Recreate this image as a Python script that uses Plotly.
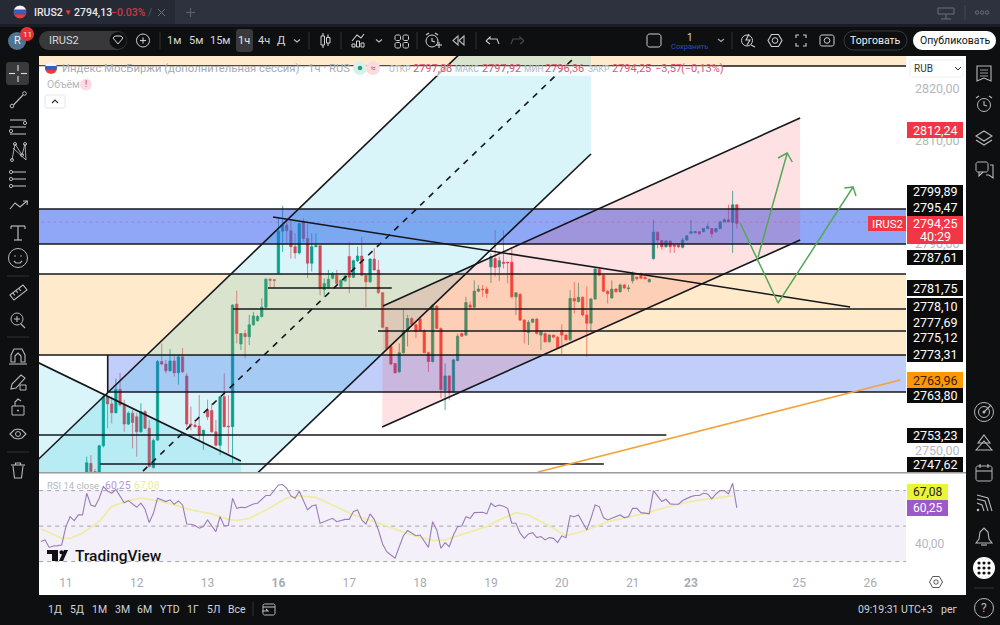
import numpy as np
import plotly.graph_objects as go

# ---------- DATA ----------
candle_open = [2745.0,2747.6,2746,2745,2751,2760.5,2759.1,2757.4,2761.9,2758.9,
2755.2,2757.3,2756.6,2753.7,2757.6,2754.4,2746.8,2752.1,2767.3,2766.8,
2765.5,2767.4,2765.1,2768.2,2764.5,2755.2,2755,2754.8,2753.1,2757.9,
2757.8,2753.7,2751.1,2760.5,2754.8,2754.7,2778.4,2770.7,2772.7,2772.1,
2774.4,2775.2,2776,2777.8,2783.2,2783.1,2784.4,2792.5,2793.7,2792.6,
2789.5,2788.3,2794.3,2791.1,2786.3,2789.5,2789.7,2781.2,2781.6,2783.4,
2784,2781.8,2782.9,2787.6,2783.6,2786.8,2787.7,2784,2782.7,2787.1,
2785,2780.6,2773.9,2770.2,2766.9,2765.3,2769,2773.1,2775.6,2774.4,
2775.5,2773.3,2769,2767.3,2778,2773.7,2761.7,2764.5,2761.4,2767.5,
2772.7,2772.4,2778.2,2777.8,2780.9,2781.3,2781.3,2785.6,2787.2,2785.6,
2786.5,2786.5,2786.5,2779.8,2780.3,2775.3,2772.9,2774.9,2775.5,2772.4,
2772.7,2771.1,2772.4,2772,2773.3,2772.4,2771.5,2779.5,2778.9,2779.7,
2776.3,2774.7,2779.4,2785.1,2784,2780.9,2779.6,2781.3,2780.8,2782.1,
2781.4,2782.9,2783.6,2784.3,2783.6,2782.7,2787.2,2792.3,2790.7,2789.5,
2790.6,2789.8,2789.8,2789.4,2790.8,2792.1,2792.2,2792.4,2792.4,2793,
2793,2792.4,2793,2794.3,2794.7,2794.2,2797.6]
candle_high = [2748.9,2749.2,2746.5,2751.2,2761.1,2761.8,2760.5,2764,2765.1,2759.9,
2757.6,2757.9,2757.3,2759.2,2757.9,2756,2752.4,2767.6,2770.8,2767.6,
2769.7,2768.5,2768.5,2769.9,2765,2758.6,2756,2760.8,2754.1,2759.9,
2759.2,2756,2760.6,2765,2760.8,2778.4,2781,2772.8,2773.4,2776.3,
2776.9,2776.3,2779.5,2783.4,2783.4,2783.2,2795.3,2797.4,2794.7,2794.7,
2792.1,2794.1,2795,2794,2792.1,2792.1,2789.7,2783.4,2785,2784.6,
2785,2783.2,2784,2790.5,2787,2789.5,2791.4,2784.1,2787.3,2789.2,
2786.9,2780.7,2774,2770.4,2767,2770.8,2777.6,2776.3,2775.9,2774.6,
2776,2773.5,2769.2,2778.4,2778.2,2773.9,2766.9,2764.7,2767.8,2772.7,
2772.9,2779.8,2778.9,2783,2782.1,2782.1,2781.8,2788.2,2792.7,2787.6,
2792.7,2786.6,2789.2,2780.7,2780.5,2775.5,2775.3,2775.6,2775.7,2773.3,
2772.9,2772.6,2772.5,2772.2,2774.5,2772.6,2781.1,2782.7,2782.5,2779.9,
2781.8,2779.6,2785.3,2785.6,2784.2,2781.1,2783,2781.5,2782.4,2782.3,
2782.1,2784.7,2783.7,2784.5,2783.7,2783.3,2794.7,2792.4,2790.8,2790.8,
2790.7,2790,2790,2791.2,2791.7,2794.7,2792.5,2792.5,2793.1,2794,
2793.1,2793.1,2794.4,2795,2797.6,2800.3,2797.7]
candle_low = [2744.5,2744.5,2745,2744,2750.7,2754.4,2755.3,2757.2,2758.6,2753.7,
2755,2750.5,2748.9,2753.5,2754.2,2746.8,2746.6,2751.9,2766.6,2765,
2765.3,2764.4,2762.8,2765.1,2754.7,2754,2754.5,2752.1,2750.2,2756,
2753.5,2750.9,2749.2,2754.5,2749.5,2747.6,2770.8,2769.5,2767.9,2770.5,
2774.2,2775,2775.8,2777.6,2781.6,2781.6,2784.2,2788.5,2790,2787.2,
2787.2,2788,2790.5,2783.4,2784.7,2789.4,2780.1,2779.8,2781.4,2783.2,
2782,2781.5,2782.7,2780.5,2783.4,2786.5,2783.8,2777.8,2782.5,2784.9,
2780.4,2773.7,2769.5,2766.6,2765,2765.1,2768.8,2770.2,2774.3,2771.8,
2773.1,2768.9,2765.3,2767.1,2773.5,2760.2,2757.9,2759.8,2761.2,2767.3,
2772,2772.2,2777.3,2777.6,2780.7,2779.8,2779.5,2782.5,2783.7,2782.9,
2785.3,2782.4,2779.5,2776.3,2775.1,2770.8,2770.5,2774.7,2772.5,2769.5,
2771,2771,2771.8,2769.9,2768.7,2771.4,2771.3,2776.6,2778.7,2776,
2768.2,2773.1,2779.2,2783.8,2780.7,2778.5,2779.4,2780.6,2780.6,2781.3,
2780.8,2782.4,2783,2783.2,2783.2,2782.6,2787,2789.2,2788.9,2789.3,
2788.3,2788.3,2789.2,2789.2,2790.6,2792,2792.1,2791.8,2792.3,2792.9,
2791.3,2792.2,2792.9,2794.2,2794.2,2788.3,2793]
candle_close = [2747.7,2746,2745.5,2751,2760.5,2759.1,2757.4,2761.9,2758.9,2755.2,
2757.3,2755.5,2753.7,2757.6,2754.4,2747,2752,2767.3,2766.8,2765.5,
2767.4,2765.1,2768.2,2765.3,2755.2,2755,2754.7,2753.1,2754,2756.6,
2753.7,2751.1,2760.5,2754.7,2754.7,2778.2,2772.7,2772.7,2772.1,2774.4,
2776.1,2776,2777.8,2783.2,2783,2783,2792.5,2793.7,2792.6,2789.5,
2788.3,2794,2791.1,2786.3,2789.5,2789.7,2781.4,2782.4,2783.2,2784.2,
2782.4,2783,2783.8,2783.6,2786.8,2787.7,2784,2782.7,2787.1,2785,
2780.6,2773.9,2769.8,2766.8,2765.1,2769,2773.1,2775.6,2774.5,2773.1,
2773.3,2769,2767.3,2778.2,2773.7,2761.9,2764.5,2761.3,2767.6,2772.2,
2772.2,2778.7,2777.8,2780.9,2781.3,2781.2,2780.5,2787.6,2785.5,2786.8,
2786.3,2786.4,2779.8,2780.6,2775.3,2773.1,2774.9,2775.5,2772.7,2773.1,
2771.1,2772.4,2772,2770,2772.4,2771.5,2779.5,2779,2779.7,2776.3,
2774.7,2779.4,2785.2,2784,2780.9,2780.4,2781.3,2780.8,2782.1,2781.5,
2781.5,2784.3,2783.3,2783.4,2783.3,2783.2,2792.3,2790.8,2789.5,2790.6,
2789.5,2789.6,2789.5,2790.8,2791.6,2792.4,2792.4,2792,2793,2793.4,
2792,2793,2794.3,2794.7,2794.3,2797.6,2794]
bars = list(range(1, len(candle_open) + 1))

rsi_bars = list(range(-10, 158))
rsi_values = [41.3,42.2,38,38.8,39,39.4,49.7,55.3,53.1,56.3,56.3,68.5,61.9,61,65.7,72.3,69.8,68.5,70.7,66.6,
63.2,64.4,62.5,60.6,62.9,59.5,52,57.2,65.7,64.8,63.8,64.8,62.3,64.2,61.9,51.2,51,50.3,48.8,49.7,
53.5,50.1,46.9,55.3,50.1,50.3,65.7,60,60.6,60.4,61.5,62.5,62.9,64.8,67.2,67.2,70.4,73.2,73.4,71.3,
67,65.7,69.6,64.4,59.1,61.3,61.9,51.6,52.5,53.5,54.4,52.5,53.1,53.8,53.8,58.2,59.1,53.5,51.2,56.9,
53.8,47.8,39.9,35.6,33.7,31.9,38.4,44.6,47.5,46,44.6,45,41.3,38,52.5,47.8,37.5,40.7,38.4,45,
49.7,50.1,55.3,54.4,57.6,57.8,57.8,56.9,62.9,61,61.9,61.2,60,51.6,51.6,46,43.1,45.6,46.3,43.5,
44.1,42.2,43.5,43.1,40.7,44.5,43.5,55.9,55.3,56.3,52,47.8,54.4,61.9,61,54.8,53.5,54.4,55,56.3,
54.8,55.3,60,60,57.6,57.2,56.9,70,66.6,63.8,65.1,62.5,62.3,62.3,64.4,65.7,66.6,67.2,67.2,68.5,
68.1,65.3,68.1,70,70,68.1,74.1,60.25]
ma_bars = [-10,-9,-5,-3,0,4,7,11,14,18,22,26,31,35,37,40,44,49,52,56,60,65,70,75,79,84,87,92,97,100,
104,107,110,113,116,121,126,131,135,140,144,148,151,156]
ma_values = [48.2,47.5,43.1,43.1,46,52.5,61,64.4,65.7,64.4,61.9,59.1,56.9,53.8,53.1,54.4,59.1,65.7,67,66.2,
61.9,56.3,52.5,48.2,45,41.8,42.2,46,49.7,53.5,57.6,56.3,52.5,48.8,44.5,47.8,52.5,55,57.2,60.6,
62.9,64.7,65.7,67.08]
rsi_levels = [70, 50, 30]

day_ticks = [-4, 13, 30, 47, 64, 81, 98, 115, 132, 146, 172, 189]
day_labels = ["11","12","13","<b>16</b>","17","18","19","20","21","<b>23</b>","25","26"]
price_ticks = [2820, 2810, 2790, 2750]
price_tick_labels = ["2820,00","2810,00","2790,00","2750,00"]
last_price = 2794.25

# full-width zones: low, high, first bar, last bar
band_low = [2824.45, 2784.22, 2761.40, 2790.02]
band_high = [2840.0, 2768.55, 2768.55, 2796.79]
band_start = [-20, -20, 6.04, -20]
band_end = [210, 210, 210, 210]

hline_price = [2824.45, 2796.79, 2790.02, 2784.22, 2768.55, 2761.40, 2781.51, 2777.45, 2773.19, 2753.08, 2747.47]
hline_start = [-20, -20, -20, -20, -20, 6.04, 44.5, 36.1, 70.9, -20, 4.2]
hline_end = [210, 210, 210, 210, 210, 210, 74.2, 210, 210, 140.1, 125.1]

channel_x = [-15, 122, 122, 42.1, 36]
channel_y = [2744.96, 2851.2, 2807.43, 2745.73, 2741.1]
channel_upper_x = [-15, 122]
channel_upper_y = [2744.96, 2851.2]
channel_lower_x = [36, 122]
channel_lower_y = [2741.1, 2807.43]
channel_mid_x = [14.5, 118.2]
channel_mid_y = [2746.1, 2826.2]
wedge_x = [-12.6, 38, 38, -12.6]
wedge_y = [2767.85, 2748.05, 2735, 2735]
wedge_line_x = [-12.6, 38]
wedge_line_y = [2767.85, 2748.05]
pink_x = [72.1, 172.2, 172.2, 71.9]
pink_y = [2778.03, 2814.39, 2790.79, 2754.63]
pink_upper_x = [72.1, 172.2]
pink_upper_y = [2778.03, 2814.39]
pink_lower_x = [71.9, 172.2]
pink_lower_y = [2754.63, 2790.79]
fall_x = [45.7, 184.2]
fall_y = [2795.24, 2777.84]
orange_x = [109.3, 196.2]
orange_y = [2745.93, 2763.72]
arrow1_x = [157.8, 166.9, 184.9, 182.8, 184.9, 185.6]
arrow1_y = [2794.08, 2778.61, 2801.04, 2800.85, 2801.04, 2799.3]
arrow2_x = [162.1, 169.1, 166.9, 169.1, 170.3]
arrow2_y = [2787.5, 2807.62, 2806.65, 2807.62, 2805.88]

# ---------- HELPERS FOR THE APP CHROME ----------
FONT = "Roboto, sans-serif"
shapes, annots = [], []
def X(p): return p / 1000
def Y(p): return 1 - p / 625
def txt(x, y, s, size=11, color="#d1d4dc", anchor="left", weight=400):
    annots.append(dict(xref="paper", yref="paper", x=X(x), y=Y(y), text=s, showarrow=False,
                       xanchor=anchor, yanchor="middle", align=anchor,
                       font=dict(size=size, color=color, family=FONT, weight=weight)))
def rect(x0, y0, x1, y1, fill=None, line=None, lw=1, layer="above"):
    shapes.append(dict(type="rect", xref="paper", yref="paper", x0=X(x0), x1=X(x1), y0=Y(y0), y1=Y(y1),
                       fillcolor=fill or "rgba(0,0,0,0)", line=dict(color=line or "rgba(0,0,0,0)", width=lw if line else 0), layer=layer))
def circ(cx, cy, r, fill=None, line=None, lw=1):
    shapes.append(dict(type="circle", xref="paper", yref="paper", x0=X(cx - r), x1=X(cx + r), y0=Y(cy + r), y1=Y(cy - r),
                       fillcolor=fill or "rgba(0,0,0,0)", line=dict(color=line or "rgba(0,0,0,0)", width=lw if line else 0), layer="above"))
def poly(pts, line="#c8c8c8", lw=1.1, fill=None, close=False):
    d = "M " + " L ".join(f"{X(a):.5f} {Y(b):.5f}" for a, b in pts) + (" Z" if close else "")
    shapes.append(dict(type="path", xref="paper", yref="paper", path=d, fillcolor=fill or "rgba(0,0,0,0)",
                       line=dict(color=line or "rgba(0,0,0,0)", width=lw if line else 0), layer="above"))
def rrect(x0, y0, x1, y1, r, fill=None, line=None, lw=1):
    a = np.linspace(0, np.pi / 2, 6)
    pts = []
    for cx, cy, s in [(x1 - r, y0 + r, -np.pi / 2), (x1 - r, y1 - r, 0), (x0 + r, y1 - r, np.pi / 2), (x0 + r, y0 + r, np.pi)]:
        pts += [(cx + r * np.cos(t + s), cy + r * np.sin(t + s)) for t in a]
    poly(pts, line=line, lw=lw, fill=fill, close=True)
def flag(cx, cy, r):
    for y0, y1, c in [(-1, -1 / 3, "#f4f4f4"), (-1 / 3, 1 / 3, "#3560b8"), (1 / 3, 1, "#e0403c")]:
        ys = np.linspace(y0, y1, 7)
        right = [(cx + r * np.sqrt(1 - v * v), cy + r * v) for v in ys]
        left = [(cx - r * np.sqrt(1 - v * v), cy + r * v) for v in ys[::-1]]
        poly(right + left, line=None, lw=0, fill=c, close=True)

# backgrounds
rect(0, 0, 1000, 24, fill="#2e323e", layer="below")
rect(0, 0, 175, 24, fill="#262a35", layer="below")
rect(0, 24, 1000, 27, fill="#1a1d25", layer="below")
rect(39, 56, 966, 595, fill="#ffffff", layer="below")

# tab bar
flag(20, 12, 6.5)
txt(32, 12.5, "IRUS2", 10.5, "#e8e8ea", weight=500)
txt(62, 12.5, "▼", 8, "#f23645")
txt(72, 12.5, "2794,13", 10.5, "#e8e8ea", weight=500)
txt(109, 12.5, "−0.03%", 10.5, "#c8394b", weight=500)
txt(146, 12.5, "/", 10, "#555a66")
poly([(158, 9), (165, 16)], "#6b6f7b", 1); poly([(165, 9), (158, 16)], "#6b6f7b", 1)
poly([(186, 12.5), (195, 12.5)], "#5c606c", 1.2); poly([(190.5, 8), (190.5, 17)], "#5c606c", 1.2)
poly([(938, 8), (954, 8), (954, 14), (938, 14)], "#6b6f7b", 1, close=True)
poly([(946, 14), (946, 19)], "#6b6f7b", 1); poly([(941, 19), (951, 19)], "#6b6f7b", 1)
poly([(965, 5), (965, 20)], "#444854", 1)
for cx in (977, 982, 987):
    circ(cx, 12.5, 1.7, line="#6b6f7b", lw=1)

# top toolbar
rect(0, 27, 1000, 56, fill="#0e0f11", layer="below")
circ(17, 41, 9, fill="#4f7390")
txt(17, 41, "R", 11, "#f0f0f0", "center")
circ(27, 34, 7, fill="#e53238")
txt(27, 34, "11", 8, "#ffffff", "center")
rrect(39, 31, 127, 50, 9.5, fill="#38383a")
txt(47, 40.5, "IRUS2", 11, "#d8d8d8")
circ(118, 40.5, 8.5, fill="#0e0f11")
poly([(113, 38), (115, 36), (121, 36), (123, 38), (118, 44)], "#d8d8d8", 1, close=True)
circ(143, 40.5, 6.5, line="#d0d0d0")
poly([(140, 40.5), (146, 40.5)], "#d0d0d0"); poly([(143, 37.5), (143, 43.5)], "#d0d0d0")
poly([(160, 32), (160, 49)], "#333", 1)
for x_, s_ in [(174, "1м"), (196, "5м"), (220, "15м"), (264, "4ч"), (281, "Д")]:
    txt(x_, 41, s_, 11, "#d8d8d8", "center")
rrect(236, 29, 253, 52, 3, fill="#3a3a3c")
txt(244, 41, "1ч", 11, "#e8e8e8", "center")
poly([(294, 39.5), (297, 42), (300, 39.5)], "#bbb")
poly([(309, 32), (309, 49)], "#333", 1)
rect(321, 36, 324.5, 45, line="#d0d0d0"); poly([(323, 33), (323, 36)], "#d0d0d0"); poly([(323, 45), (323, 48)], "#d0d0d0")
rect(326.5, 37.5, 330, 43, line="#d0d0d0"); poly([(328, 34.5), (328, 37.5)], "#d0d0d0"); poly([(328, 43), (328, 46)], "#d0d0d0")
poly([(341, 32), (341, 49)], "#333", 1)
poly([(352, 41), (357, 35), (361, 38), (364, 34)], "#d0d0d0")
for a_, b_ in [(352, 44), (356.5, 41), (361, 43)]:
    rect(a_, b_, a_ + 3, 47, line="#d0d0d0")
poly([(376, 39.5), (379, 42), (382, 39.5)], "#bbb")
for a_, b_ in [(395, 35), (403, 35), (395, 42.5), (403, 42.5)]:
    rrect(a_, b_, a_ + 5.5, b_ + 5.5, 1.5, line="#d0d0d0")
poly([(417, 32), (417, 49)], "#333", 1)
circ(432, 41, 6, line="#d0d0d0"); poly([(432, 38), (432, 41), (435, 42)], "#d0d0d0")
poly([(436, 45), (442, 45)], "#d0d0d0"); poly([(439, 42), (439, 48)], "#d0d0d0")
poly([(426, 35), (429, 33)], "#d0d0d0"); poly([(435, 33), (438, 35)], "#d0d0d0")
poly([(464, 36), (459, 40.5), (464, 45)], "#bbb", close=True); poly([(458, 36), (453, 40.5), (458, 45)], "#bbb", close=True)
poly([(476, 32), (476, 49)], "#333", 1)
poly([(486, 41), (490, 37), (490, 39), (497, 39), (499, 44)], "#c8c8c8"); poly([(486, 41), (490, 44)], "#c8c8c8")
poly([(524, 41), (520, 37), (520, 39), (513, 39), (511, 44)], "#4a4a4c"); poly([(524, 41), (520, 44)], "#4a4a4c")
rrect(647, 34, 661, 47, 2.5, line="#d0d0d0")
txt(689.5, 37, "1", 10, "#d8d8d8", "center")
txt(689.5, 46.5, "Сохранить", 7.5, "#2c4fb5", "center")
poly([(718, 39), (721, 41.5), (724, 39)], "#aaa")
poly([(732, 32), (732, 49)], "#333", 1)
circ(747, 40.5, 5.5, line="#d0d0d0"); poly([(751, 45), (755, 47)], "#d0d0d0"); poly([(749, 34), (746, 40), (750, 40), (747, 45)], "#d0d0d0")
poly([(768, 40.5), (771.5, 34.5), (778.5, 34.5), (782, 40.5), (778.5, 46.5), (771.5, 46.5)], "#d0d0d0", close=True)
circ(775, 40.5, 2.8, line="#d0d0d0")
for pts_ in ([(796, 38), (796, 35), (799, 35)], [(803, 35), (806, 35), (806, 38)], [(806, 43), (806, 46), (803, 46)], [(799, 46), (796, 46), (796, 43)]):
    poly(pts_, "#d0d0d0")
rrect(820, 35, 834, 46, 2, line="#d0d0d0"); circ(827, 40.5, 2.8, line="#d0d0d0")
rrect(844, 31, 907, 50, 9.5, fill="#0e0f11", line="#3a3a3c")
txt(875.5, 40.5, "Торговать", 10.5, "#f0f0f0", "center")
rrect(913, 31, 996, 50, 9.5, fill="#ffffff")
txt(954.5, 40.5, "Опубликовать", 10.5, "#111111", "center")

# left toolbar
rect(0, 56, 39, 625, fill="#0e0f11", layer="below")
C = "#b8b8b8"
rrect(6, 62, 29, 85, 3, fill="#3a3a3c")
for p_ in ([(18, 65), (18, 71)], [(18, 76), (18, 82)], [(9, 73.5), (15, 73.5)], [(21, 73.5), (27, 73.5)]):
    poly(p_, "#e0e0e0")
poly([(13.5, 105), (23, 95)], C); circ(12, 106, 1.8, line=C); circ(24.5, 93.5, 1.8, line=C)
for y_ in (120, 127, 134):
    poly([(10, y_), (26, y_)], C)
circ(25, 123, 1.6, line=C); circ(11, 131, 1.6, line=C)
poly([(12, 160), (15, 144), (22, 155), (25, 144), (26, 160), (13, 148)], C, 0.9)
for p_ in [(12, 160), (15, 144), (22, 155), (25, 144)]:
    circ(p_[0], p_[1], 1.5, line=C)
for y_ in (172, 179, 186):
    poly([(12, y_), (26, y_)], C); circ(11, y_, 1.6, line=C)
poly([(10, 209), (15, 203), (20, 207), (27, 201)], C); poly([(23, 201), (27.5, 201), (27, 205)], C)
poly([(11, 226), (25, 226)], C, 1.2); poly([(18, 226), (18, 240)], C, 1.2); poly([(14, 240), (22, 240)], C, 1.2)
poly([(11, 226), (11, 229)], C); poly([(25, 226), (25, 229)], C)
circ(18, 258, 9.5, line=C); circ(15, 256, 0.8, fill=C); circ(21, 256, 0.8, fill=C)
poly([(14, 261), (16, 263), (20, 263), (22, 261)], C)
poly([(7, 276), (29, 276)], "#333", 1)
poly([(10, 295), (23, 285), (27, 290), (14, 300)], C, close=True)
for a_, b_ in [(13, 293), (16, 290.5), (19, 288.5)]:
    poly([(a_, b_), (a_ + 1.8, b_ + 2.4)], C)
circ(17, 319, 6, line=C); poly([(21, 324), (25, 328)], C); poly([(14, 319), (20, 319)], C); poly([(17, 316), (17, 322)], C)
poly([(7, 337), (29, 337)], "#333", 1)
poly([(11, 362), (11, 355), (14, 349), (22, 349), (25, 355), (25, 362), (21, 362), (21, 356), (18, 353), (15, 356), (15, 362)], C, close=True)
poly([(9, 364), (27, 364)], C)
poly([(11, 389), (12, 384), (21, 375), (25, 378), (16, 388)], C, close=True); rect(20, 385, 26, 390, line=C)
rect(12, 406, 24, 415, line=C); poly([(15, 406), (15, 402), (18, 399), (21, 401)], C); circ(18, 410.5, 1, fill=C)
poly([(10, 434), (14, 430), (18, 429), (22, 430), (26, 434), (22, 438), (18, 439), (14, 438)], C, close=True); circ(18, 434, 2.5, line=C)
poly([(7, 452), (29, 452)], "#333", 1)
poly([(13, 466), (14.5, 478), (21.5, 478), (23, 466)], C); poly([(11, 465), (25, 465)], C); poly([(15.5, 465), (15.5, 463), (20.5, 463), (20.5, 465)], C)

# right toolbar
rect(966, 56, 1000, 625, fill="#0e0f11", layer="below")
poly([(977, 66), (991, 66), (991, 81), (984, 78), (977, 81)], C, close=True)
for y_ in (70, 73, 76):
    poly([(980, y_), (988, y_)], C, 0.8)
circ(984, 105, 6.5, line=C); poly([(984, 101), (984, 105), (987, 106)], C); poly([(976, 98), (979, 96)], C); poly([(989, 96), (992, 98)], C)
poly([(976, 136), (984, 131), (992, 136), (984, 141)], C, close=True); poly([(976, 140), (984, 145), (992, 140)], C)
rrect(976, 162, 988, 172, 2, line=C); poly([(979, 172), (979, 176), (983, 172)], C); poly([(990, 165), (993, 165), (993, 175), (993, 178), (989, 175), (986, 175)], C)
circ(984, 412, 9.5, line=C); circ(984, 412, 5.5, line=C); circ(984, 412, 1.5, fill=C); poly([(984, 412), (991, 405)], C)
poly([(984, 435), (990, 443), (978, 443)], C, close=True); poly([(976, 450), (984, 441), (992, 450)], C, close=True)
rrect(976, 466, 992, 481, 2, line=C); poly([(976, 471), (992, 471)], C); poly([(980, 464), (980, 468)], C); poly([(988, 464), (988, 468)], C)
circ(978, 510, 1.3, fill=C)
poly([(977, 503), (982, 505), (984, 511)], C); poly([(977, 499), (985, 501), (988, 511)], C); poly([(977, 495), (988, 498), (992, 511)], C)
poly([(976, 543), (979, 539), (980, 532), (984, 528), (988, 532), (989, 539), (992, 543)], C, close=True); poly([(981, 545), (987, 545)], C)
circ(984, 568, 11, fill="#ffffff")
for a_ in (979, 984, 989):
    for b_ in (563, 568, 573):
        circ(a_, b_, 1.6, fill="#111111")
poly([(974, 588), (994, 588)], "#333", 1)
circ(984, 608, 9.5, line=C); txt(984, 608, "?", 12, C, "center")

# bottom bar
rect(39, 595, 966, 625, fill="#0e0f11", layer="below")
for x_, s_ in [(55, "1Д"), (77, "5Д"), (99, "1М"), (122, "3М"), (144, "6М"), (170, "YTD"), (193, "1Г"), (213, "5Л"), (237, "Все")]:
    txt(x_, 609.5, s_, 10.5, "#d1d4dc", "center")
poly([(253, 602), (253, 616)], "#333", 1)
rrect(263, 604, 275, 615, 1.5, line=C); poly([(263, 607), (275, 607)], C); poly([(262, 611), (268, 611), (266, 609)], C)
txt(935, 609.5, "09:19:31 UTC+3", 10.5, "#d1d4dc", "right")
txt(959, 609.5, "рег", 10.5, "#d1d4dc", "right")

# legend on the chart
rect(39, 66, 722, 76, fill="rgba(255,255,255,0.72)")
flag(51, 68, 6)
txt(60, 68.5, "Индекс МосБиржи (дополнительная сессия) · 1ч · RUS", 11.3, "#a8abb2")
circ(360, 68, 7, fill="#d9f0ea"); circ(360, 68, 2.3, fill="#1f9d7f")
circ(373, 68, 7, fill="#f9dbe0"); txt(373, 68, "≈", 9, "#d8495b", "center")
R_ = "#d9566a"; G_ = "#b4b7bd"
for x_, s_, c_ in [(387, "ОТКР", G_), (411, "2797,88", R_), (453, "МАКС", G_), (480, "2797,92", R_), (522, "МИН", G_),
                   (543, "2796,36", R_), (586, "ЗАКР", G_), (610, "2794,25", R_), (653, "−3,57", R_), (679, "(−0,13%)", R_)]:
    txt(x_, 68.5, s_, 8.5 if c_ == G_ else 11, c_)
txt(45, 84.5, "Объём", 10.5, "#b4b7bd")
circ(86, 84.5, 6, fill="#fbdde1"); txt(86, 84.5, "!", 9, "#e0364c", "center")
rrect(45, 95, 65, 108, 2, fill="#ffffff", line="#e4e4e4")
poly([(52, 103), (55, 100), (58, 103)], "#333", 1.2)
rrect(910, 60, 963, 77, 2, fill="#ffffff", line="#eeeeee")
txt(912, 68.5, "RUB", 10, "#333333")
poly([(955, 67), (958, 70), (961, 67)], "#333", 1)

# RSI legend
txt(45, 485, "RSI 14 close", 9.5, "#b4b7bd")
txt(103, 485, "60,25", 10.5, "#b893d6")
txt(132, 485, "67,08", 10.5, "#ecec9c")

# watermark
poly([(47, 550), (58, 550), (58, 561), (52, 561), (52, 554), (47, 554)], None, 0, "#111111", True)
circ(61.5, 552.3, 2.1, fill="#111111")
poly([(68, 550), (64, 550), (59, 561), (63, 561)], None, 0, "#111111", True)
txt(73, 555.5, "TradingView", 15.5, "#111111", weight=500)

# price scale labels
LB = 12.5
def label(y0, y1, s, fill, color="#ffffff", size=LB, x0=907, x1=963):
    rect(x0, y0, x1, y1, fill=fill)
    txt((x0 + x1) / 2, (y0 + y1) / 2 + 0.4, s, size, color, "center")
rect(907, 185, 963, 232, fill="#0b0b0b")
for y_, s_ in [(191.5, "2799,89"), (207.5, "2795,47")]:
    txt(935, y_, s_, LB, "#ffffff", "center")
rect(907, 122, 963, 138, fill="#f23645"); txt(935, 130.4, "2812,24", LB, "#ffffff", "center")
rect(907, 216, 963, 244, fill="#f23645")
txt(935, 223.5, "2794,25", LB, "#ffffff", "center"); txt(935, 236.5, "40:29", LB, "#ffffff", "center")
rect(868, 216, 906, 231, fill="#f23645"); txt(887, 224, "IRUS2", 11.5, "#ffffff", "center")
label(250, 265, "2787,61", "#0b0b0b")
label(280, 296, "2781,75", "#0b0b0b")
rect(907, 298, 963, 362, fill="#0b0b0b")
for y_, s_ in [(306, "2778,10"), (322, "2777,69"), (338, "2775,12"), (354, "2773,31")]:
    txt(935, y_, s_, LB, "#ffffff", "center")
label(372, 388, "2763,96", "#ff9800", "#3a2000")
label(388, 403, "2763,80", "#0b0b0b")
label(428, 443, "2753,23", "#0b0b0b")
label(457, 472, "2747,62", "#0b0b0b")
label(484, 500, "67,08", "#e9f53a", "#222222", 12, 907, 948)
label(500, 516, "60,25", "#9c59c9", "#ffffff", 12, 907, 948)
# pane separator and settings icon
rect(39, 472, 966, 473.5, fill="#9a9a9a")
poly([(929.5, 582), (932.7, 576.5), (939.3, 576.5), (942.5, 582), (939.3, 587.5), (932.7, 587.5)], "#555", 1, close=True)
circ(936, 582, 2.2, line="#555")

# ---------- TRACES ----------
fig = go.Figure()
def draw(xs, ys, color, width=1.6, dash=None, fill=None, xa="x", ya="y"):
    fig.add_trace(go.Scatter(x=xs, y=ys, xaxis=xa, yaxis=ya, mode="lines" if width else "none",
                             line=dict(color=color, width=width, dash=dash) if width else None,
                             fill="toself" if fill else None, fillcolor=fill,
                             hoverinfo="skip", showlegend=False))

fig.add_trace(go.Candlestick(x=bars, open=candle_open, high=candle_high, low=candle_low, close=candle_close,
    increasing=dict(line=dict(color="rgba(8,153,129,0.75)", width=1), fillcolor="#089981"),
    decreasing=dict(line=dict(color="rgba(242,54,69,0.65)", width=1), fillcolor="#f23645"),
    whiskerwidth=0, hoverinfo="skip", showlegend=False))

BAND_FILL = ["rgba(255,152,0,0.2)", "rgba(255,152,0,0.2)", "rgba(52,92,240,0.3)", "rgba(52,92,240,0.55)"]
for lo, hi, a, b, c in zip(band_low, band_high, band_start, band_end, BAND_FILL):
    draw([a, b, b, a], [lo, lo, hi, hi], None, 0, fill=c)
draw(channel_x, channel_y, None, 0, fill="rgba(0,188,212,0.15)")
draw(wedge_x, wedge_y, None, 0, fill="rgba(0,188,212,0.15)")
draw(pink_x, pink_y, None, 0, fill="rgba(242,54,69,0.15)")
draw([-20, 210], [last_price, last_price], "rgba(242,54,69,0.45)", 0.7, "dot")
INK = "#15171c"
for p, a, b in zip(hline_price, hline_start, hline_end):
    draw([a, b], [p, p], INK, 1.6)
draw([6.04, 6.04], [band_low[2], band_high[2]], INK, 1.6)
draw(channel_upper_x, channel_upper_y, INK, 1.6)
draw(channel_lower_x, channel_lower_y, INK, 1.6)
draw(channel_mid_x, channel_mid_y, INK, 1.6, "6px,6px")
draw(wedge_line_x, wedge_line_y, INK, 1.6)
draw(pink_upper_x, pink_upper_y, INK, 1.6)
draw(pink_lower_x, pink_lower_y, INK, 1.6)
draw(fall_x, fall_y, INK, 1.6)
draw(orange_x, orange_y, "#f2a33c", 1.7)
draw(arrow1_x, arrow1_y, "#55a85a", 1.5)
draw(arrow2_x, arrow2_y, "#55a85a", 1.5)

# RSI pane
draw([-20, 210, 210, -20], [30, 30, 70, 70], None, 0, fill="rgba(126,87,194,0.09)", xa="x2", ya="y2")
for lv in rsi_levels:
    draw([-20, 210], [lv, lv], "#a8a2ae", 1, "4px,4px", xa="x2", ya="y2")
draw(ma_bars, ma_values, "#efecA6", 1.8, xa="x2", ya="y2")
draw(rsi_bars, rsi_values, "#9a7db6", 1.1, xa="x2", ya="y2")

x_range = [-10.45, 197.6]
fig.update_layout(
    width=1000, height=625, margin=dict(l=0, r=0, t=0, b=0), autosize=False,
    paper_bgcolor="#0e0f11", plot_bgcolor="rgba(0,0,0,0)", showlegend=False,
    font=dict(family=FONT), boxgap=0.2,
    xaxis=dict(domain=[0.039, 0.906], range=x_range, anchor="y", showticklabels=False, showgrid=False,
               zeroline=False, rangeslider=dict(visible=False), ticks=""),
    yaxis=dict(domain=[Y(472.5), Y(56)], range=[2745.83, 2826.38], side="right", anchor="x",
               tickmode="array", tickvals=price_ticks, ticktext=price_tick_labels, showgrid=False, zeroline=False,
               ticks="", ticklabelstandoff=8, tickfont=dict(size=LB, color="#b4b7bd", family=FONT)),
    xaxis2=dict(domain=[0.039, 0.906], range=x_range, anchor="y2", matches="x", tickmode="array",
                tickvals=day_ticks, ticktext=day_labels, showgrid=False, zeroline=False, ticks="",
                ticklabelstandoff=4, tickfont=dict(size=12, color="#a8abb2", family=FONT)),
    yaxis2=dict(domain=[Y(570), Y(473.5)], range=[25.27, 79.63], side="right", anchor="x2",
                tickmode="array", tickvals=[40], ticktext=["40,00"], showgrid=False, zeroline=False,
                ticks="", ticklabelstandoff=8, tickfont=dict(size=12, color="#b4b7bd", family=FONT)),
    shapes=shapes, annotations=annots,
)
fig.write_html("out.html", config=dict(displayModeBar=False),
               post_script="document.body.style.margin='0';document.documentElement.style.overflow='hidden';")
